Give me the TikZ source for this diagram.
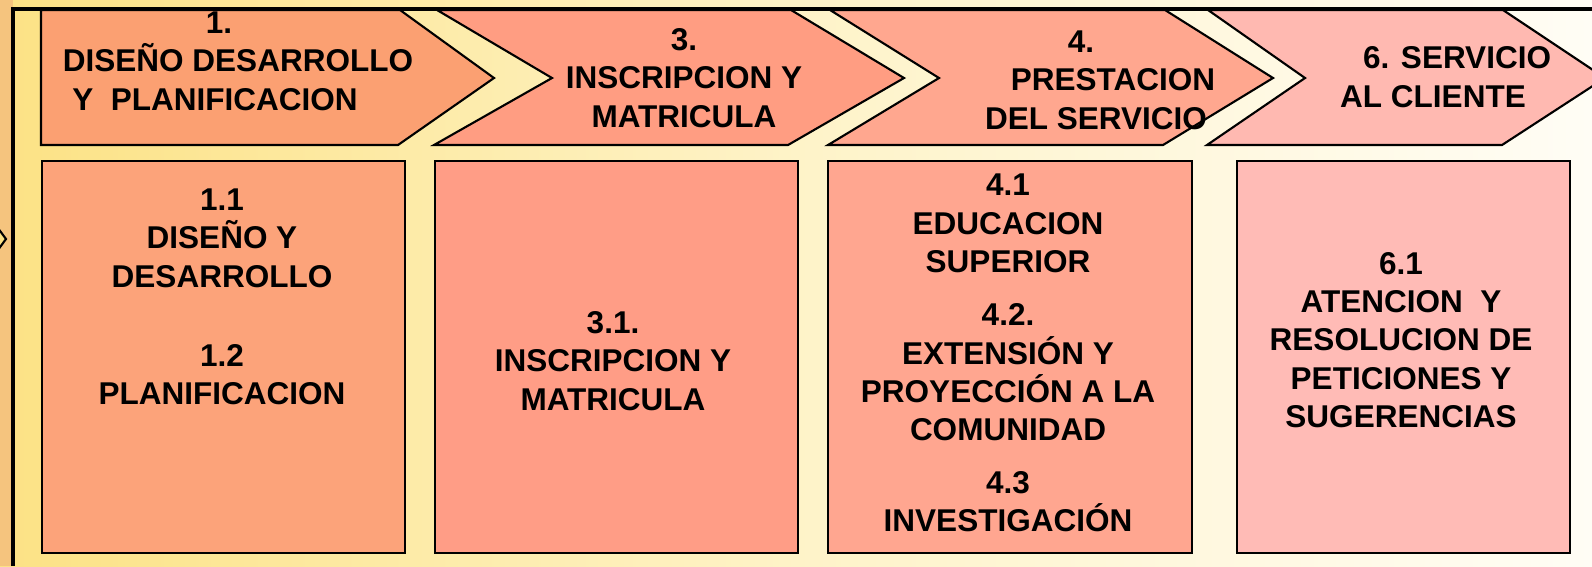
\documentclass[tikz,border=0pt]{standalone}
\usepackage{fontspec}
\setmainfont{Liberation Sans}
\definecolor{fondG}{HTML}{FCE285}
\definecolor{fondM}{HTML}{FEF3C8}
\definecolor{fondD}{HTML}{FFFDF5}
\definecolor{bande}{HTML}{F5C47E}
\definecolor{fc1}{HTML}{FBA072}
\definecolor{fc2}{HTML}{FF9D82}
\definecolor{fc3}{HTML}{FFA78F}
\definecolor{fc4}{HTML}{FFB9B1}
\definecolor{bt1}{HTML}{FCA37A}
\definecolor{bt2}{HTML}{FF9D86}
\definecolor{bt3}{HTML}{FFA690}
\definecolor{bt4}{HTML}{FFBBB6}

\begin{document}
\begin{tikzpicture}[x=0.01cm, y=-0.01cm]
\tikzset{fleche/.style={draw, line width=0.6pt, line join=miter}, boite/.style={draw, line width=0.6pt}, texte/.style={align=center, inner sep=0pt, font=\bfseries\fontsize{8.96}{10.9}\selectfont}}
\useasboundingbox (0,0) rectangle (1592,566);
\shade[left color=fondG, right color=fondD, middle color=fondM] (0,0) rectangle (1592,566);
\fill[bande] (0,0) rectangle (13,566);
\draw[fleche, fill=fondG] (-8,220) -- (6,239) -- (-8,258);
\draw[line width=1pt] (13,566) -- (13,9) -- (1600,9);
\filldraw[fleche, fill=fc1] (41,10) -- (400,10) -- (494,78) -- (398,145) -- (41,145) -- cycle;
\filldraw[fleche, fill=fc2] (437,10) -- (791,10) -- (904,78) -- (788,145) -- (434,145) -- (552,78) -- cycle;
\filldraw[fleche, fill=fc3] (830,10) -- (1165,10) -- (1273,78) -- (1163,145) -- (828,145) -- (939,78) -- cycle;
\filldraw[fleche, fill=fc4] (1208,10) -- (1503,10) -- (1605,78) -- (1502,145) -- (1207,145) -- (1305,78) -- cycle;
\filldraw[boite, fill=bt1] (42,161) rectangle (405,553);
\filldraw[boite, fill=bt2] (435,161) rectangle (798,553);
\filldraw[boite, fill=bt3] (828,161) rectangle (1192,553);
\filldraw[boite, fill=bt4] (1237,161) rectangle (1570,553);
\node[texte] (F1) at (238,61) {1.\hspace*{0.38cm}\\DISEÑO DESARROLLO\\Y\ \ PLANIFICACION\hspace*{0.46cm}};
\node[texte] (F3) at (684,78) {3.\\INSCRIPCION Y\\MATRICULA};
\node[texte] (F4) at (1096,80) {4.\hspace*{0.30cm}\\\hspace*{0.34cm}PRESTACION\\DEL SERVICIO};
\node[texte] (F6) at (1445,77) {\hspace*{0.24cm}6. SERVICIO\\AL CLIENTE\hspace*{0.24cm}};
\node[texte] (B1) at (222,297) {1.1\\DISEÑO Y\\DESARROLLO\\[0.41cm]1.2\\PLANIFICACION};
\node[texte] (B3) at (613,361) {3.1.\\INSCRIPCION Y\\MATRICULA};
\node[texte] (B4) at (1008,353) {4.1\\EDUCACION\\SUPERIOR\\[0.15cm]4.2.\\EXTENSIÓN Y\\PROYECCIÓN A LA\\COMUNIDAD\\[0.14cm]4.3\\INVESTIGACIÓN};
\node[texte] (B6) at (1401,340) {6.1\\ATENCION\ \ Y\\RESOLUCION DE\\PETICIONES Y\\SUGERENCIAS};
\end{tikzpicture}
\end{document}
